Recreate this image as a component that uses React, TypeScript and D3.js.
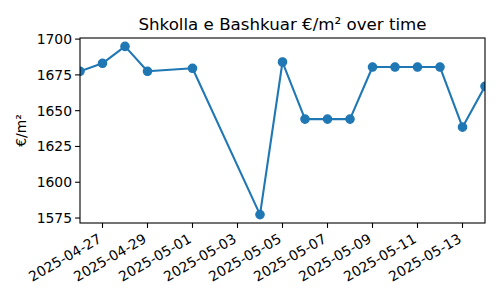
import React from "react";
import * as d3 from "d3";

const dates = [
  "2025-04-26", "2025-04-27", "2025-04-28", "2025-04-29", "2025-05-01",
  "2025-05-04", "2025-05-05", "2025-05-06", "2025-05-07", "2025-05-08",
  "2025-05-09", "2025-05-10", "2025-05-11", "2025-05-12", "2025-05-13", "2025-05-14",
];
const values = [
  1677.5, 1683.1, 1694.9, 1677.5, 1679.6,
  1577.4, 1684.0, 1644.1, 1644.1, 1644.1,
  1680.5, 1680.5, 1680.5, 1680.5, 1638.5, 1667.0,
];
const xTickLabels = [
  "2025-04-27", "2025-04-29", "2025-05-01", "2025-05-03", "2025-05-05",
  "2025-05-07", "2025-05-09", "2025-05-11", "2025-05-13",
];
const yTicks = [1575, 1600, 1625, 1650, 1675, 1700];

const W = 500, H = 300;
const L = 80, R = 485, T = 38, B = 223;
const COLOR = "#1f77b4";
const FONT = "'DejaVu Sans', sans-serif";

export default function App() {
  const parse = (s: string) => new Date(s + "T00:00:00Z");
  const data = dates.map((d, i) => ({ d: parse(d), v: values[i] }));
  const x = d3.scaleUtc()
    .domain(d3.extent(data, (p) => p.d) as [Date, Date])
    .range([L, R]);
  const vmin = d3.min(values)!, vmax = d3.max(values)!;
  const m = (vmax - vmin) * 0.05;
  const y = d3.scaleLinear().domain([vmin - m, vmax + m]).range([B, T]);
  const line = d3.line<{ d: Date; v: number }>().x((p) => x(p.d)).y((p) => y(p.v));

  return (
    <svg width={W} height={H} style={{ position: "absolute", left: 0, top: 0, background: "#fff" }} fontFamily={FONT}>
      <rect x={0} y={0} width={W} height={H} fill="#fff" />
      <defs>
        <clipPath id="clip">
          <rect x={L} y={T} width={R - L} height={B - T} />
        </clipPath>
      </defs>
      <text x={(L + R) / 2} y={29.5} textAnchor="middle" fontSize={16.67} fill="#000">
        Shkolla e Bashkuar €/m² over time
      </text>
      <g clipPath="url(#clip)">
        <path d={line(data)!} fill="none" stroke={COLOR} strokeWidth={2.08} strokeLinejoin="round" />
        {data.map((p, i) => (
          <circle key={i} cx={x(p.d)} cy={y(p.v)} r={4.2} fill={COLOR} stroke={COLOR} strokeWidth={1.2} />
        ))}
      </g>
      <rect x={L} y={T} width={R - L} height={B - T} fill="none" stroke="#000" strokeWidth={1.1} />
      {yTicks.map((t) => (
        <g key={t}>
          <line x1={L} x2={L - 4.9} y1={y(t)} y2={y(t)} stroke="#000" strokeWidth={1.1} />
          <text x={L - 8} y={y(t)} dy="0.35em" textAnchor="end" fontSize={13.9} fill="#000">
            {t}
          </text>
        </g>
      ))}
      {xTickLabels.map((s) => {
        const tx = x(parse(s));
        return (
          <g key={s}>
            <line x1={tx} x2={tx} y1={B} y2={B + 4.9} stroke="#000" strokeWidth={1.1} />
            <text
              transform={`translate(${tx - 5.5},${B + 9.5}) rotate(-30)`}
              textAnchor="end"
              dy="0.76em"
              fontSize={13.9}
              fill="#000"
            >
              {s}
            </text>
          </g>
        );
      })}
      <text transform={`translate(26,${(T + B) / 2}) rotate(-90)`} textAnchor="middle" fontSize={13.9} fill="#000">
        €/m²
      </text>
    </svg>
  );
}
